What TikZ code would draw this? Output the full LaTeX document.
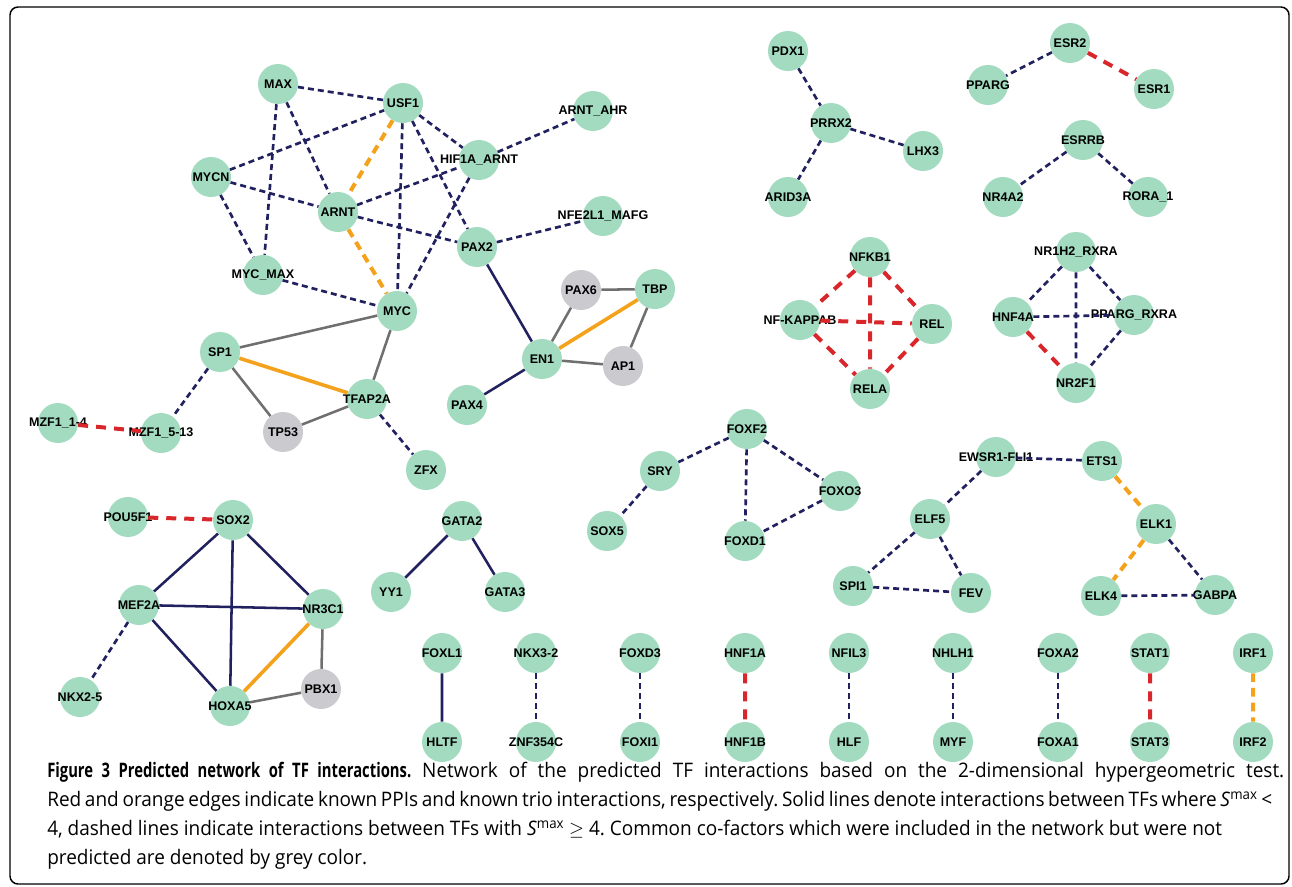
\documentclass[tikz,border=0pt]{standalone}
\usepackage{fontspec}
\setmainfont{Open Sans}
\newfontfamily\tffont{Liberation Sans}
\newfontfamily\capfont{Open Sans}[FakeStretch=0.95, BoldFeatures={FakeStretch=0.74}]
\usetikzlibrary{arrows.meta, positioning, calc}
\definecolor{mint}{HTML}{A2DBC0}
\definecolor{ash}{HTML}{CACACF}
\definecolor{navy}{HTML}{22215F}
\definecolor{ppired}{HTML}{D8262B}
\definecolor{trio}{HTML}{F4A11C}
\definecolor{wire}{HTML}{6F6F6F}
\newcommand{\tfname}[1]{\makebox[0pt]{#1}}
\newcommand{\smax}{\textit{S}\textsuperscript{max}}
\tikzset{
  tf/.style={circle, fill=mint, minimum size=30pt, inner sep=0pt,
    font=\tffont\bfseries\fontsize{9.4}{10}\selectfont, text=black},
  cof/.style={tf, fill=ash},
  dashnavy/.style={navy, line width=2pt, dash pattern=on 4.5pt off 3pt},
  dashred/.style={ppired, line width=3pt, dash pattern=on 7.5pt off 6pt},
  dashorange/.style={trio, line width=3pt, dash pattern=on 6.5pt off 4.5pt},
  solidnavy/.style={navy, line width=1.9pt},
  solidgrey/.style={wire, line width=1.9pt},
  solidorange/.style={trio, line width=2.7pt},
  captext/.style={anchor=base west, inner sep=0pt,
    font=\capfont\frenchspacing\fontsize{15}{18}\selectfont},
}

\begin{document}
\begin{tikzpicture}[x=0.75pt, y=-0.75pt]
\useasboundingbox (0,0) rectangle (1292,886);
\draw[line width=1.1pt, rounded corners=6pt] (10,7) rectangle (1289,884);

% MYC / ARNT cluster
\node[tf] (max) at (278,84) {\tfname{MAX}};
\node[tf] (usf1) at (403,103) {\tfname{USF1}};
\node[tf] (mycn) at (211,177) {\tfname{MYCN}};
\node[tf] (arnt) at (338,212) {\tfname{ARNT}};
\node[tf] (hif) at (479,160) {\tfname{HIF1A\_ARNT}};
\node[tf] (arntahr) at (593,111) {\tfname{ARNT\_AHR}};
\node[tf] (nfe) at (603,216) {\tfname{NFE2L1\_MAFG}};
\node[tf] (pax2) at (477,247) {\tfname{PAX2}};
\node[tf] (mycmax) at (263,275) {\tfname{MYC\_MAX}};
\node[tf] (myc) at (397,311) {\tfname{MYC}};
\node[tf] (sp1) at (220,352) {\tfname{SP1}};
\node[tf] (tfap2a) at (367,399) {\tfname{TFAP2A}};
\node[cof] (tp53) at (283,432) {\tfname{TP53}};
\node[tf] (zfx) at (426,470) {\tfname{ZFX}};
\node[tf] (mzfa) at (58,423) {\tfname{MZF1\_1-4}};
\node[tf] (mzfb) at (161,433) {\tfname{MZF1\_5-13}};
\node[cof] (pax6) at (581,290) {\tfname{PAX6}};
\node[tf] (tbp) at (655,289) {\tfname{TBP}};
\node[tf] (en1) at (542,359) {\tfname{EN1}};
\node[cof] (ap1) at (623,366) {\tfname{AP1}};
\node[tf] (pax4) at (467,405) {\tfname{PAX4}};

% SOX2 cluster
\node[tf] (pou5f1) at (128,517) {\tfname{POU5F1}};
\node[tf] (sox2) at (233,520) {\tfname{SOX2}};
\node[tf] (mef2a) at (139,605) {\tfname{MEF2A}};
\node[tf] (nr3c1) at (323,609) {\tfname{NR3C1}};
\node[tf] (nkx25) at (80,697) {\tfname{NKX2-5}};
\node[tf] (hoxa5) at (230,706) {\tfname{HOXA5}};
\node[cof] (pbx1) at (321,689) {\tfname{PBX1}};
\node[tf] (gata2) at (462,521) {\tfname{GATA2}};
\node[tf] (yy1) at (391,592) {\tfname{YY1}};
\node[tf] (gata3) at (505,592) {\tfname{GATA3}};

% pairs along the bottom
\node[tf] (foxl1) at (442,653) {\tfname{FOXL1}};
\node[tf] (hltf) at (442,742) {\tfname{HLTF}};
\node[tf] (nkx32) at (536,653) {\tfname{NKX3-2}};
\node[tf] (znf) at (536,742) {\tfname{ZNF354C}};
\node[tf] (foxd3) at (640,653) {\tfname{FOXD3}};
\node[tf] (foxi1) at (640,742) {\tfname{FOXI1}};
\node[tf] (hnf1a) at (745,653) {\tfname{HNF1A}};
\node[tf] (hnf1b) at (745,742) {\tfname{HNF1B}};
\node[tf] (nfil3) at (849,653) {\tfname{NFIL3}};
\node[tf] (hlf) at (849,742) {\tfname{HLF}};
\node[tf] (nhlh1) at (953,653) {\tfname{NHLH1}};
\node[tf] (myf) at (953,742) {\tfname{MYF}};
\node[tf] (foxa2) at (1058,653) {\tfname{FOXA2}};
\node[tf] (foxa1) at (1058,742) {\tfname{FOXA1}};
\node[tf] (stat1) at (1150,653) {\tfname{STAT1}};
\node[tf] (stat3) at (1150,742) {\tfname{STAT3}};
\node[tf] (irf1) at (1253,653) {\tfname{IRF1}};
\node[tf] (irf2) at (1253,742) {\tfname{IRF2}};

% right hand groups
\node[tf] (pdx1) at (788,51) {\tfname{PDX1}};
\node[tf] (prrx2) at (831,123) {\tfname{PRRX2}};
\node[tf] (lhx3) at (923,151) {\tfname{LHX3}};
\node[tf] (arid3a) at (788,197) {\tfname{ARID3A}};
\node[tf] (esr2) at (1070,43) {\tfname{ESR2}};
\node[tf] (pparg) at (988,85) {\tfname{PPARG}};
\node[tf] (esr1) at (1154,89) {\tfname{ESR1}};
\node[tf] (esrrb) at (1083,140) {\tfname{ESRRB}};
\node[tf] (nr4a2) at (1003,197) {\tfname{NR4A2}};
\node[tf] (rora1) at (1148,197) {\tfname{RORA\_1}};
\node[tf] (nfkb1) at (870,257) {\tfname{NFKB1}};
\node[tf] (nfkappab) at (800,320) {\tfname{NF-KAPPAB}};
\node[tf] (rel) at (932,324) {\tfname{REL}};
\node[tf] (rela) at (870,389) {\tfname{RELA}};
\node[tf] (nr1h2) at (1076,252) {\tfname{NR1H2\_RXRA}};
\node[tf] (hnf4a) at (1013,317) {\tfname{HNF4A}};
\node[tf] (ppargrxra) at (1134,315) {\tfname{PPARG\_RXRA}};
\node[tf] (nr2f1) at (1076,383) {\tfname{NR2F1}};
\node[tf] (foxf2) at (747,429) {\tfname{FOXF2}};
\node[tf] (sry) at (660,471) {\tfname{SRY}};
\node[tf] (sox5) at (607,531) {\tfname{SOX5}};
\node[tf] (foxo3) at (840,491) {\tfname{FOXO3}};
\node[tf] (foxd1) at (745,541) {\tfname{FOXD1}};
\node[tf] (ewsr1) at (996,457) {\tfname{EWSR1-FLI1}};
\node[tf] (ets1) at (1102,461) {\tfname{ETS1}};
\node[tf] (elf5) at (930,519) {\tfname{ELF5}};
\node[tf] (elk1) at (1156,524) {\tfname{ELK1}};
\node[tf] (spi1) at (853,586) {\tfname{SPI1}};
\node[tf] (fev) at (971,593) {\tfname{FEV}};
\node[tf] (elk4) at (1101,596) {\tfname{ELK4}};
\node[tf] (gabpa) at (1215,595) {\tfname{GABPA}};

% edges, S^max >= 4
\draw[dashnavy] (max) -- (usf1) (max) -- (arnt) (max) -- (mycmax)
  (mycn) -- (usf1) (mycn) -- (arnt) (mycn) -- (mycmax)
  (usf1) -- (myc) (usf1) -- (hif) (usf1) -- (pax2)
  (arnt) -- (hif) (hif) -- (arntahr) (arnt) -- (pax2) (hif) -- (myc)
  (pax2) -- (nfe) (mycmax) -- (myc) (tfap2a) -- (zfx) (sp1) -- (mzfb)
  (mef2a) -- (nkx25);
\draw[dashnavy] (pdx1) -- (prrx2) (prrx2) -- (lhx3) (prrx2) -- (arid3a)
  (esr2) -- (pparg) (esrrb) -- (nr4a2) (esrrb) -- (rora1)
  (nr1h2) -- (hnf4a) (nr1h2) -- (ppargrxra) (nr1h2) -- (nr2f1)
  (hnf4a) -- (ppargrxra) (ppargrxra) -- (nr2f1);
\draw[dashnavy] (foxf2) -- (sry) (sry) -- (sox5) (foxf2) -- (foxd1)
  (foxf2) -- (foxo3) (foxo3) -- (foxd1)
  (ewsr1) -- (ets1) (ewsr1) -- (elf5) (elf5) -- (spi1) (elf5) -- (fev)
  (spi1) -- (fev) (elk1) -- (gabpa) (elk4) -- (gabpa);
\draw[dashnavy] (nkx32) -- (znf) (foxd3) -- (foxi1) (nfil3) -- (hlf)
  (nhlh1) -- (myf) (foxa2) -- (foxa1);
% known trios
\draw[dashorange] (usf1) -- (arnt) (arnt) -- (myc) (ets1) -- (elk1)
  (elk1) -- (elk4) (irf1) -- (irf2);
% known PPIs
\draw[dashred] (mzfa) -- (mzfb) (pou5f1) -- (sox2) (esr2) -- (esr1)
  (nfkb1) -- (nfkappab) (nfkb1) -- (rel) (nfkb1) -- (rela)
  (nfkappab) -- (rel) (nfkappab) -- (rela) (rel) -- (rela)
  (hnf4a) -- (nr2f1) (hnf1a) -- (hnf1b) (stat1) -- (stat3);
% S^max < 4
\draw[solidnavy] (pax2) -- (en1) (en1) -- (pax4)
  (sox2) -- (mef2a) (sox2) -- (hoxa5) (sox2) -- (nr3c1)
  (mef2a) -- (nr3c1) (mef2a) -- (hoxa5)
  (gata2) -- (yy1) (gata2) -- (gata3) (foxl1) -- (hltf);
\draw[solidgrey] (myc) -- (sp1) (myc) -- (tfap2a) (sp1) -- (tp53)
  (tp53) -- (tfap2a) (en1) -- (pax6) (en1) -- (ap1) (pax6) -- (tbp)
  (tbp) -- (ap1) (nr3c1) -- (pbx1) (hoxa5) -- (pbx1);
\draw[solidorange] (sp1) -- (tfap2a) (en1) -- (tbp) (nr3c1) -- (hoxa5);

% caption
\node[captext] (cap1) at (47,777) {\makebox[927.75pt][s]{\textbf{Figure 3 Predicted network of TF interactions.} Network of the predicted TF interactions based on the 2-dimensional hypergeometric test.}};
\node[captext] (cap2) at (47,806) {\makebox[918.75pt][s]{Red and orange edges indicate known PPIs and known trio interactions, respectively. Solid lines denote interactions between TFs where \smax{} <}};
\node[captext] (cap3) at (47,835) {4, dashed lines indicate interactions between TFs with \smax{} $\geq$ 4. Common co-factors which were included in the network but were not};
\node[captext] (cap4) at (47,864) {predicted are denoted by grey color.};
\end{tikzpicture}
\end{document}
